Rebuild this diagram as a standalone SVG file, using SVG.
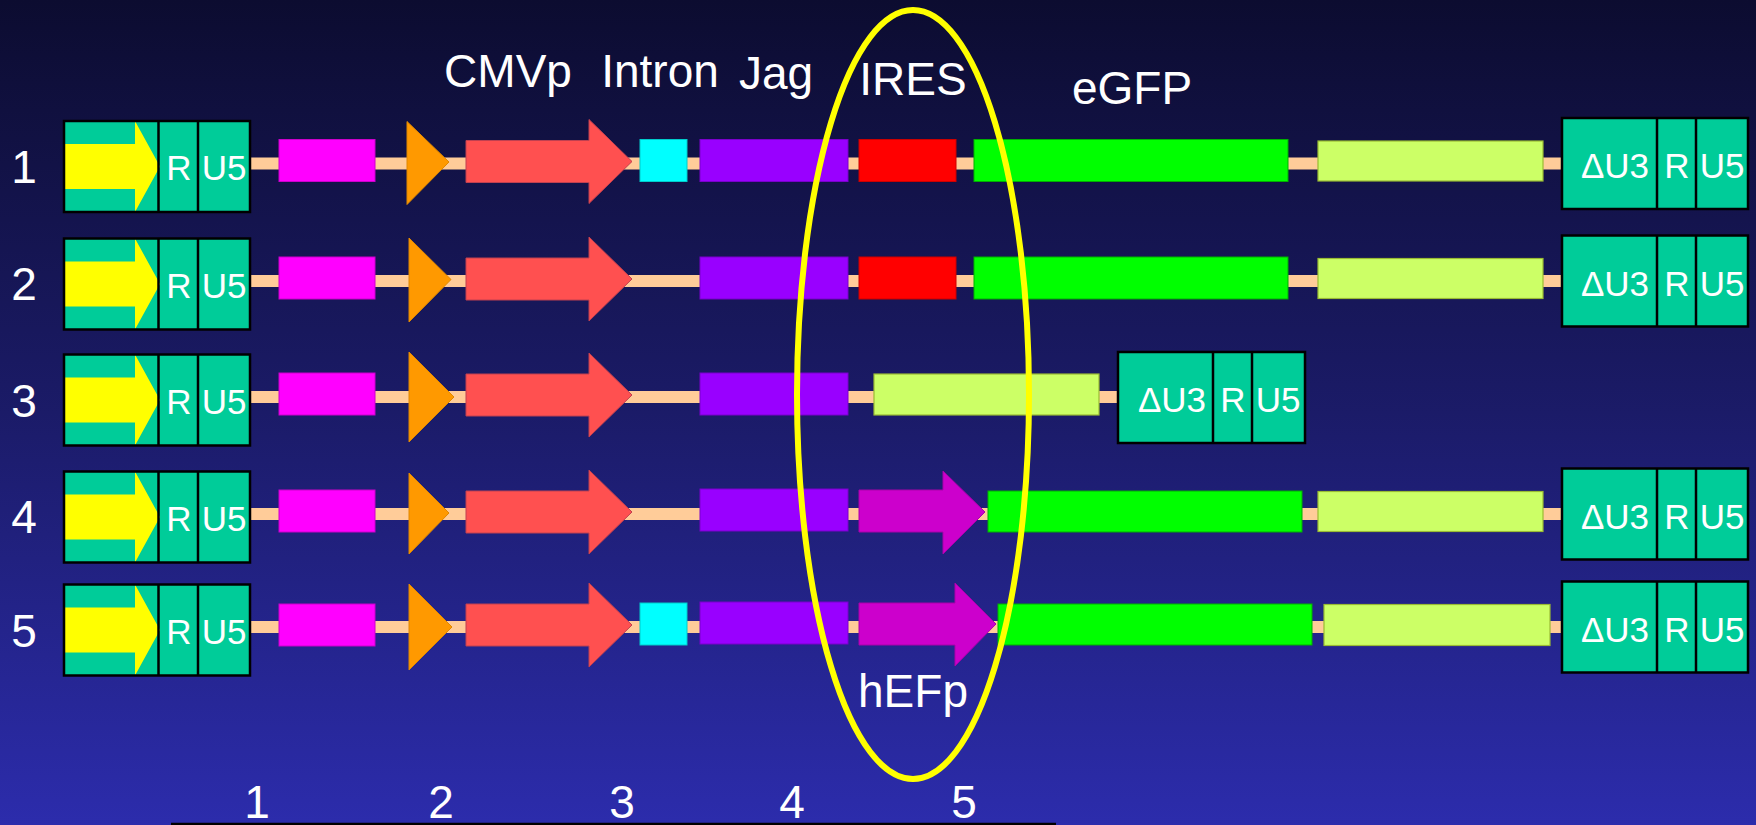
<svg xmlns="http://www.w3.org/2000/svg" width="1756" height="825" viewBox="0 0 1756 825">
  <defs>
    <linearGradient id="bg" x1="0" y1="0" x2="0" y2="1">
      <stop offset="0" stop-color="#0C0C30"/>
      <stop offset="0.5" stop-color="#1B1B68"/>
      <stop offset="1" stop-color="#2C2CAC"/>
    </linearGradient>
    <style>
      .t { font-family: "Liberation Sans", Arial, sans-serif; fill: #FFFFFF; }
      .hdr { font-size: 46px; text-anchor: middle; }
      .num { font-size: 46px; text-anchor: middle; }
      .ltr { font-size: 35px; text-anchor: middle; }
      .box { fill: #00CC99; }
      .boxline { fill: none; stroke: #000000; stroke-width: 2.5; }
      .yel { fill: #FFFF00; }
      .bb { fill: #FFCC99; }
      .mag { fill: #FF00FF; stroke: #CC00CC; stroke-width: 1; }
      .ora { fill: #FF9900; stroke: #E08800; stroke-width: 1; }
      .cmv { fill: #FF5050; stroke: #C04050; stroke-width: 1; }
      .cya { fill: #00FFFF; stroke: #00CCCC; stroke-width: 1; }
      .pur { fill: #9900FF; stroke: #7A00CC; stroke-width: 1; }
      .ires { fill: #FF0000; stroke: #CC0000; stroke-width: 1; }
      .hef { fill: #CC00CC; stroke: #AA00AA; stroke-width: 1; }
      .gfp { fill: #00FF00; stroke: #00B000; stroke-width: 1; }
      .lim { fill: #CCFF66; stroke: #99BB33; stroke-width: 1.2; }
      .ring { fill: none; stroke: #FFFF00; stroke-width: 6; }
    </style>
  </defs>

  <rect x="0" y="0" width="1756" height="825" fill="url(#bg)"/>

  <!-- connectors: DNA backbones -->
  <g id="connectors">
    <rect class="bb" x="250" y="157.5" width="1312" height="12"/>
    <rect class="bb" x="250" y="275" width="1312" height="12"/>
    <rect class="bb" x="250" y="391" width="868" height="12"/>
    <rect class="bb" x="250" y="508" width="1312" height="12"/>
    <rect class="bb" x="250" y="621" width="1312" height="12"/>
  </g>

  <!-- header labels -->
  <g id="labels">
    <text class="t hdr" x="508" y="87">CMVp</text>
    <text class="t hdr" x="660" y="87">Intron</text>
    <text class="t hdr" x="776" y="89">Jag</text>
    <text class="t hdr" x="913" y="95">IRES</text>
    <text class="t hdr" x="1132" y="104">eGFP</text>
    <text class="t hdr" x="913" y="707">hEFp</text>
  </g>

  <!-- Row 1 -->
  <g id="row1" transform="translate(0,161.5)">
    <text class="t num" x="24" y="21.5">1</text>
    <g id="row1-ltr5">
      <rect class="box" x="64" y="-40.5" width="186" height="91"/>
      <polygon class="yel" points="65,-17.5 135,-17.5 135,-40.5 160,5 135,50.5 135,27.5 65,27.5"/>
      <rect class="boxline" x="64" y="-40.5" width="186" height="91"/>
      <line class="boxline" x1="158.5" y1="-40.5" x2="158.5" y2="50.5"/>
      <line class="boxline" x1="198" y1="-40.5" x2="198" y2="50.5"/>
      <text class="t ltr" x="179" y="18.5">R</text>
      <text class="t ltr" x="224" y="18.5">U5</text>
    </g>
    <rect id="row1-mag" class="mag" x="279" y="-22" width="96" height="42"/>
    <polygon id="row1-ora" class="ora" points="407,-40 449,0.5 407,43"/>
    <polygon id="row1-cmv" class="cmv" points="466,-21 589,-21 589,-42 632,0 589,42 589,21 466,21"/>
    <rect id="row1-intron" class="cya" x="640" y="-22" width="47" height="42"/>
    <rect id="row1-jag" class="pur" x="700" y="-22" width="148" height="42"/>
    <rect id="row1-ires" class="ires" x="859" y="-22" width="97" height="42"/>
    <rect id="row1-gfp" class="gfp" x="974" y="-22" width="314" height="42"/>
    <rect id="row1-lim" class="lim" x="1318" y="-20.5" width="225" height="40"/>
    <g id="row1-ltr3">
      <rect class="box" x="1562" y="-43.5" width="186" height="91"/>
      <rect class="boxline" x="1562" y="-43.5" width="186" height="91"/>
      <line class="boxline" x1="1657" y1="-43.5" x2="1657" y2="47.5"/>
      <line class="boxline" x1="1696" y1="-43.5" x2="1696" y2="47.5"/>
      <text class="t ltr" x="1615" y="16.5">ΔU3</text>
      <text class="t ltr" x="1677" y="16.5">R</text>
      <text class="t ltr" x="1722" y="16.5">U5</text>
    </g>
  </g>

  <!-- Row 2 -->
  <g id="row2" transform="translate(0,279)">
    <text class="t num" x="24" y="21">2</text>
    <g id="row2-ltr5">
      <rect class="box" x="64" y="-40.5" width="186" height="91"/>
      <polygon class="yel" points="65,-17.5 135,-17.5 135,-40.5 160,5 135,50.5 135,27.5 65,27.5"/>
      <rect class="boxline" x="64" y="-40.5" width="186" height="91"/>
      <line class="boxline" x1="158.5" y1="-40.5" x2="158.5" y2="50.5"/>
      <line class="boxline" x1="198" y1="-40.5" x2="198" y2="50.5"/>
      <text class="t ltr" x="179" y="18.5">R</text>
      <text class="t ltr" x="224" y="18.5">U5</text>
    </g>
    <rect id="row2-mag" class="mag" x="279" y="-22" width="96" height="42"/>
    <polygon id="row2-ora" class="ora" points="409,-41 451,0.5 409,43"/>
    <polygon id="row2-cmv" class="cmv" points="466,-21 589,-21 589,-42 632,0 589,42 589,21 466,21"/>
    <rect id="row2-jag" class="pur" x="700" y="-22" width="148" height="42"/>
    <rect id="row2-ires" class="ires" x="859" y="-22" width="97" height="42"/>
    <rect id="row2-gfp" class="gfp" x="974" y="-22" width="314" height="42"/>
    <rect id="row2-lim" class="lim" x="1318" y="-20.5" width="225" height="40"/>
    <g id="row2-ltr3">
      <rect class="box" x="1562" y="-43.5" width="186" height="91"/>
      <rect class="boxline" x="1562" y="-43.5" width="186" height="91"/>
      <line class="boxline" x1="1657" y1="-43.5" x2="1657" y2="47.5"/>
      <line class="boxline" x1="1696" y1="-43.5" x2="1696" y2="47.5"/>
      <text class="t ltr" x="1615" y="16.5">ΔU3</text>
      <text class="t ltr" x="1677" y="16.5">R</text>
      <text class="t ltr" x="1722" y="16.5">U5</text>
    </g>
  </g>

  <!-- Row 3 -->
  <g id="row3" transform="translate(0,395)">
    <text class="t num" x="24" y="22">3</text>
    <g id="row3-ltr5">
      <rect class="box" x="64" y="-40.5" width="186" height="91"/>
      <polygon class="yel" points="65,-17.5 135,-17.5 135,-40.5 160,5 135,50.5 135,27.5 65,27.5"/>
      <rect class="boxline" x="64" y="-40.5" width="186" height="91"/>
      <line class="boxline" x1="158.5" y1="-40.5" x2="158.5" y2="50.5"/>
      <line class="boxline" x1="198" y1="-40.5" x2="198" y2="50.5"/>
      <text class="t ltr" x="179" y="18.5">R</text>
      <text class="t ltr" x="224" y="18.5">U5</text>
    </g>
    <rect id="row3-mag" class="mag" x="279" y="-22" width="96" height="42"/>
    <polygon id="row3-ora" class="ora" points="409,-43 454,2 409,47"/>
    <polygon id="row3-cmv" class="cmv" points="466,-21 589,-21 589,-42 632,0 589,42 589,21 466,21"/>
    <rect id="row3-jag" class="pur" x="700" y="-22" width="148" height="42"/>
    <rect id="row3-lim" class="lim" x="874" y="-21" width="225" height="41"/>
    <g id="row3-ltr3">
      <rect class="box" x="1118" y="-43" width="187" height="91"/>
      <rect class="boxline" x="1118" y="-43" width="187" height="91"/>
      <line class="boxline" x1="1213" y1="-43" x2="1213" y2="48"/>
      <line class="boxline" x1="1252" y1="-43" x2="1252" y2="48"/>
      <text class="t ltr" x="1172" y="17">ΔU3</text>
      <text class="t ltr" x="1233" y="17">R</text>
      <text class="t ltr" x="1278" y="17">U5</text>
    </g>
  </g>

  <!-- Row 4 -->
  <g id="row4" transform="translate(0,512)">
    <text class="t num" x="24" y="21">4</text>
    <g id="row4-ltr5">
      <rect class="box" x="64" y="-40.5" width="186" height="91"/>
      <polygon class="yel" points="65,-17.5 135,-17.5 135,-40.5 160,5 135,50.5 135,27.5 65,27.5"/>
      <rect class="boxline" x="64" y="-40.5" width="186" height="91"/>
      <line class="boxline" x1="158.5" y1="-40.5" x2="158.5" y2="50.5"/>
      <line class="boxline" x1="198" y1="-40.5" x2="198" y2="50.5"/>
      <text class="t ltr" x="179" y="18.5">R</text>
      <text class="t ltr" x="224" y="18.5">U5</text>
    </g>
    <rect id="row4-mag" class="mag" x="279" y="-22" width="96" height="42"/>
    <polygon id="row4-ora" class="ora" points="409,-39 449,1 409,42"/>
    <polygon id="row4-cmv" class="cmv" points="466,-21 589,-21 589,-42 632,0 589,42 589,21 466,21"/>
    <rect id="row4-jag" class="pur" x="700" y="-23" width="148" height="42"/>
    <polygon id="row4-hef" class="hef" points="859,-22 943,-22 943,-41 985,0 943,42 943,20 859,20"/>
    <rect id="row4-gfp" class="gfp" x="988" y="-21" width="314" height="41"/>
    <rect id="row4-lim" class="lim" x="1318" y="-20.5" width="225" height="40"/>
    <g id="row4-ltr3">
      <rect class="box" x="1562" y="-43.5" width="186" height="91"/>
      <rect class="boxline" x="1562" y="-43.5" width="186" height="91"/>
      <line class="boxline" x1="1657" y1="-43.5" x2="1657" y2="47.5"/>
      <line class="boxline" x1="1696" y1="-43.5" x2="1696" y2="47.5"/>
      <text class="t ltr" x="1615" y="16.5">ΔU3</text>
      <text class="t ltr" x="1677" y="16.5">R</text>
      <text class="t ltr" x="1722" y="16.5">U5</text>
    </g>
  </g>

  <!-- Row 5 -->
  <g id="row5" transform="translate(0,625)">
    <text class="t num" x="24" y="22">5</text>
    <g id="row5-ltr5">
      <rect class="box" x="64" y="-40.5" width="186" height="91"/>
      <polygon class="yel" points="65,-17.5 135,-17.5 135,-40.5 160,5 135,50.5 135,27.5 65,27.5"/>
      <rect class="boxline" x="64" y="-40.5" width="186" height="91"/>
      <line class="boxline" x1="158.5" y1="-40.5" x2="158.5" y2="50.5"/>
      <line class="boxline" x1="198" y1="-40.5" x2="198" y2="50.5"/>
      <text class="t ltr" x="179" y="18.5">R</text>
      <text class="t ltr" x="224" y="18.5">U5</text>
    </g>
    <rect id="row5-mag" class="mag" x="279" y="-21" width="96" height="42"/>
    <polygon id="row5-ora" class="ora" points="409,-41 452,2 409,45"/>
    <polygon id="row5-cmv" class="cmv" points="466,-21 589,-21 589,-42 632,0 589,42 589,21 466,21"/>
    <rect id="row5-intron" class="cya" x="640" y="-22" width="47" height="42"/>
    <rect id="row5-jag" class="pur" x="700" y="-23" width="148" height="42"/>
    <polygon id="row5-hef" class="hef" points="859,-22 955,-22 955,-42 996,-1 955,41 955,20 859,20"/>
    <rect id="row5-gfp" class="gfp" x="998" y="-21" width="314" height="41"/>
    <rect id="row5-lim" class="lim" x="1324" y="-20.5" width="226" height="41"/>
    <g id="row5-ltr3">
      <rect class="box" x="1562" y="-43.5" width="186" height="91"/>
      <rect class="boxline" x="1562" y="-43.5" width="186" height="91"/>
      <line class="boxline" x1="1657" y1="-43.5" x2="1657" y2="47.5"/>
      <line class="boxline" x1="1696" y1="-43.5" x2="1696" y2="47.5"/>
      <text class="t ltr" x="1615" y="16.5">ΔU3</text>
      <text class="t ltr" x="1677" y="16.5">R</text>
      <text class="t ltr" x="1722" y="16.5">U5</text>
    </g>
  </g>

  <!-- highlight ring -->
  <g id="highlight">
    <ellipse class="ring" cx="913" cy="394.5" rx="116" ry="384.5"/>
  </g>

  <!-- bottom scale -->
  <g id="scale">
    <text class="t num" x="257" y="818">1</text>
    <text class="t num" x="441" y="818">2</text>
    <text class="t num" x="622" y="818">3</text>
    <text class="t num" x="792" y="818">4</text>
    <text class="t num" x="964" y="818">5</text>
    <line x1="171" y1="824" x2="1056" y2="824" stroke="#000000" stroke-width="2.5"/>
  </g>
</svg>
